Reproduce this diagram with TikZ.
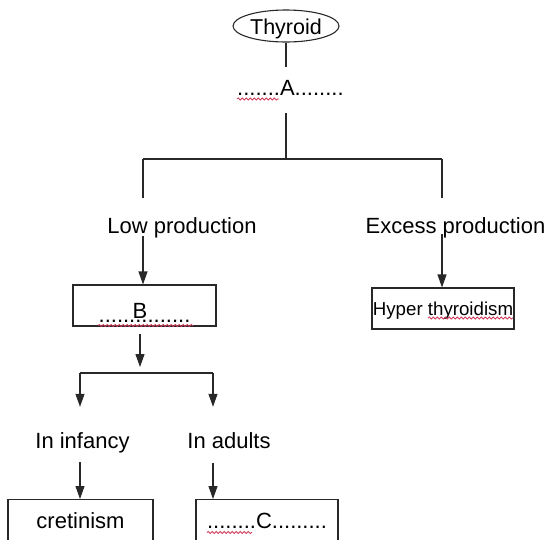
\documentclass[tikz,border=0pt]{standalone}
\usepackage{fontspec}
\setmainfont{Liberation Sans}
\usetikzlibrary{shapes.geometric,arrows.meta,decorations.pathmorphing}
\definecolor{spell}{RGB}{205,60,90}
\definecolor{ink}{RGB}{40,40,40}
\begin{document}
\begin{tikzpicture}[x=1pt,y=-1pt,
  ln/.style={line width=1.1pt, draw=ink},
  arr/.style={ln, -{Triangle[length=13pt,width=9pt]}},
  big/.style={font=\fontsize{22}{26}\selectfont},
  lbl/.style={big, inner sep=0pt, text height=16pt, text depth=5pt},
  boxn/.style={draw=ink, line width=1.1pt, inner sep=0pt},
  wavy/.style={draw=spell, line width=0.8pt, decorate, decoration={snake,amplitude=1.1pt,segment length=4pt}}
]
\useasboundingbox (0,0) rectangle (549,539);

% nodes
\node[ellipse, draw=ink, line width=1.1pt, minimum width=106pt, minimum height=32pt, inner sep=0pt,
      font=\fontsize{21.5}{26}\selectfont, text height=16pt, text depth=0pt] (thy) at (286,26) {Thyroid};
\node[lbl, anchor=base west] (A) at (237,95) {.......A........};
\node[lbl, anchor=base] (low) at (182,233) {Low production};
\node[lbl, anchor=base] (exc) at (455.5,233) {Excess production};
\node[boxn, big, align=center, minimum width=143pt, minimum height=41pt] (B) at (144.5,305.5)
  {\rule{0pt}{29pt}\hspace*{-9pt}B\\[-22pt]...............};
\node[boxn, minimum width=142pt, minimum height=41pt, font=\fontsize{18.7}{22}\selectfont, text height=17pt, text depth=4pt] (hyp) at (443,308.5) {Hyper thyroidism};
\node[lbl, anchor=base] (inf) at (82.5,448) {In infancy};
\node[lbl, anchor=base] (adu) at (229,448) {In adults};
\node[boxn, big, anchor=north, minimum width=145pt, inner ysep=13pt, text height=16pt, text depth=0pt] (cret) at (80.5,499) {cretinism};
\node[boxn, big, anchor=north, minimum width=142pt, inner ysep=13pt, text height=16pt, text depth=0pt] (C) at (267,499) {........C.........};

% junctions
\coordinate (j0) at (286,159);
\coordinate (jl) at (143,159);
\coordinate (jr) at (442,159);
\coordinate (kb) at (140,373);
\coordinate (kl) at (80,373);
\coordinate (kr) at (213,373);

% connectors
\draw[ln, shorten >=12pt] (thy.south) -- (thy.south |- A.north);
\draw[ln, shorten <=13pt] (thy.south |- A.south) -- (j0);
\draw[ln] (jl) -- (jr);
\draw[ln, shorten >=19pt] (jl) -- (jl |- low.north);
\draw[ln, shorten >=19pt] (jr) -- (jr |- exc.north);
\draw[arr, shorten <=-2pt] (jl |- low.south) -- (jl |- B.north);
\draw[arr, shorten <=-4pt] (jr |- exc.south) -- (jr |- hyp.north);
\draw[arr, shorten <=7pt, shorten >=6pt] (kb |- B.south) -- (kb);
\draw[ln] (kl) -- (kr);
\draw[arr, shorten >=25pt] (kl) -- (kl |- inf.north);
\draw[arr, shorten >=25pt] (kr) -- (kr |- adu.north);
\draw[arr, shorten <=9pt] (kl |- inf.south) -- (kl |- cret.north);
\draw[arr, shorten <=10pt] (kr |- adu.south) -- (kr |- C.north);

% spell-check underlines
\draw[wavy] (237,99) -- (279,99);
\draw[wavy] (98,325.5) -- (193,325.5);
\draw[wavy] (207,532.5) -- (252,532.5);
\draw[wavy] (428,318) -- (513,318);
\end{tikzpicture}
\end{document}
